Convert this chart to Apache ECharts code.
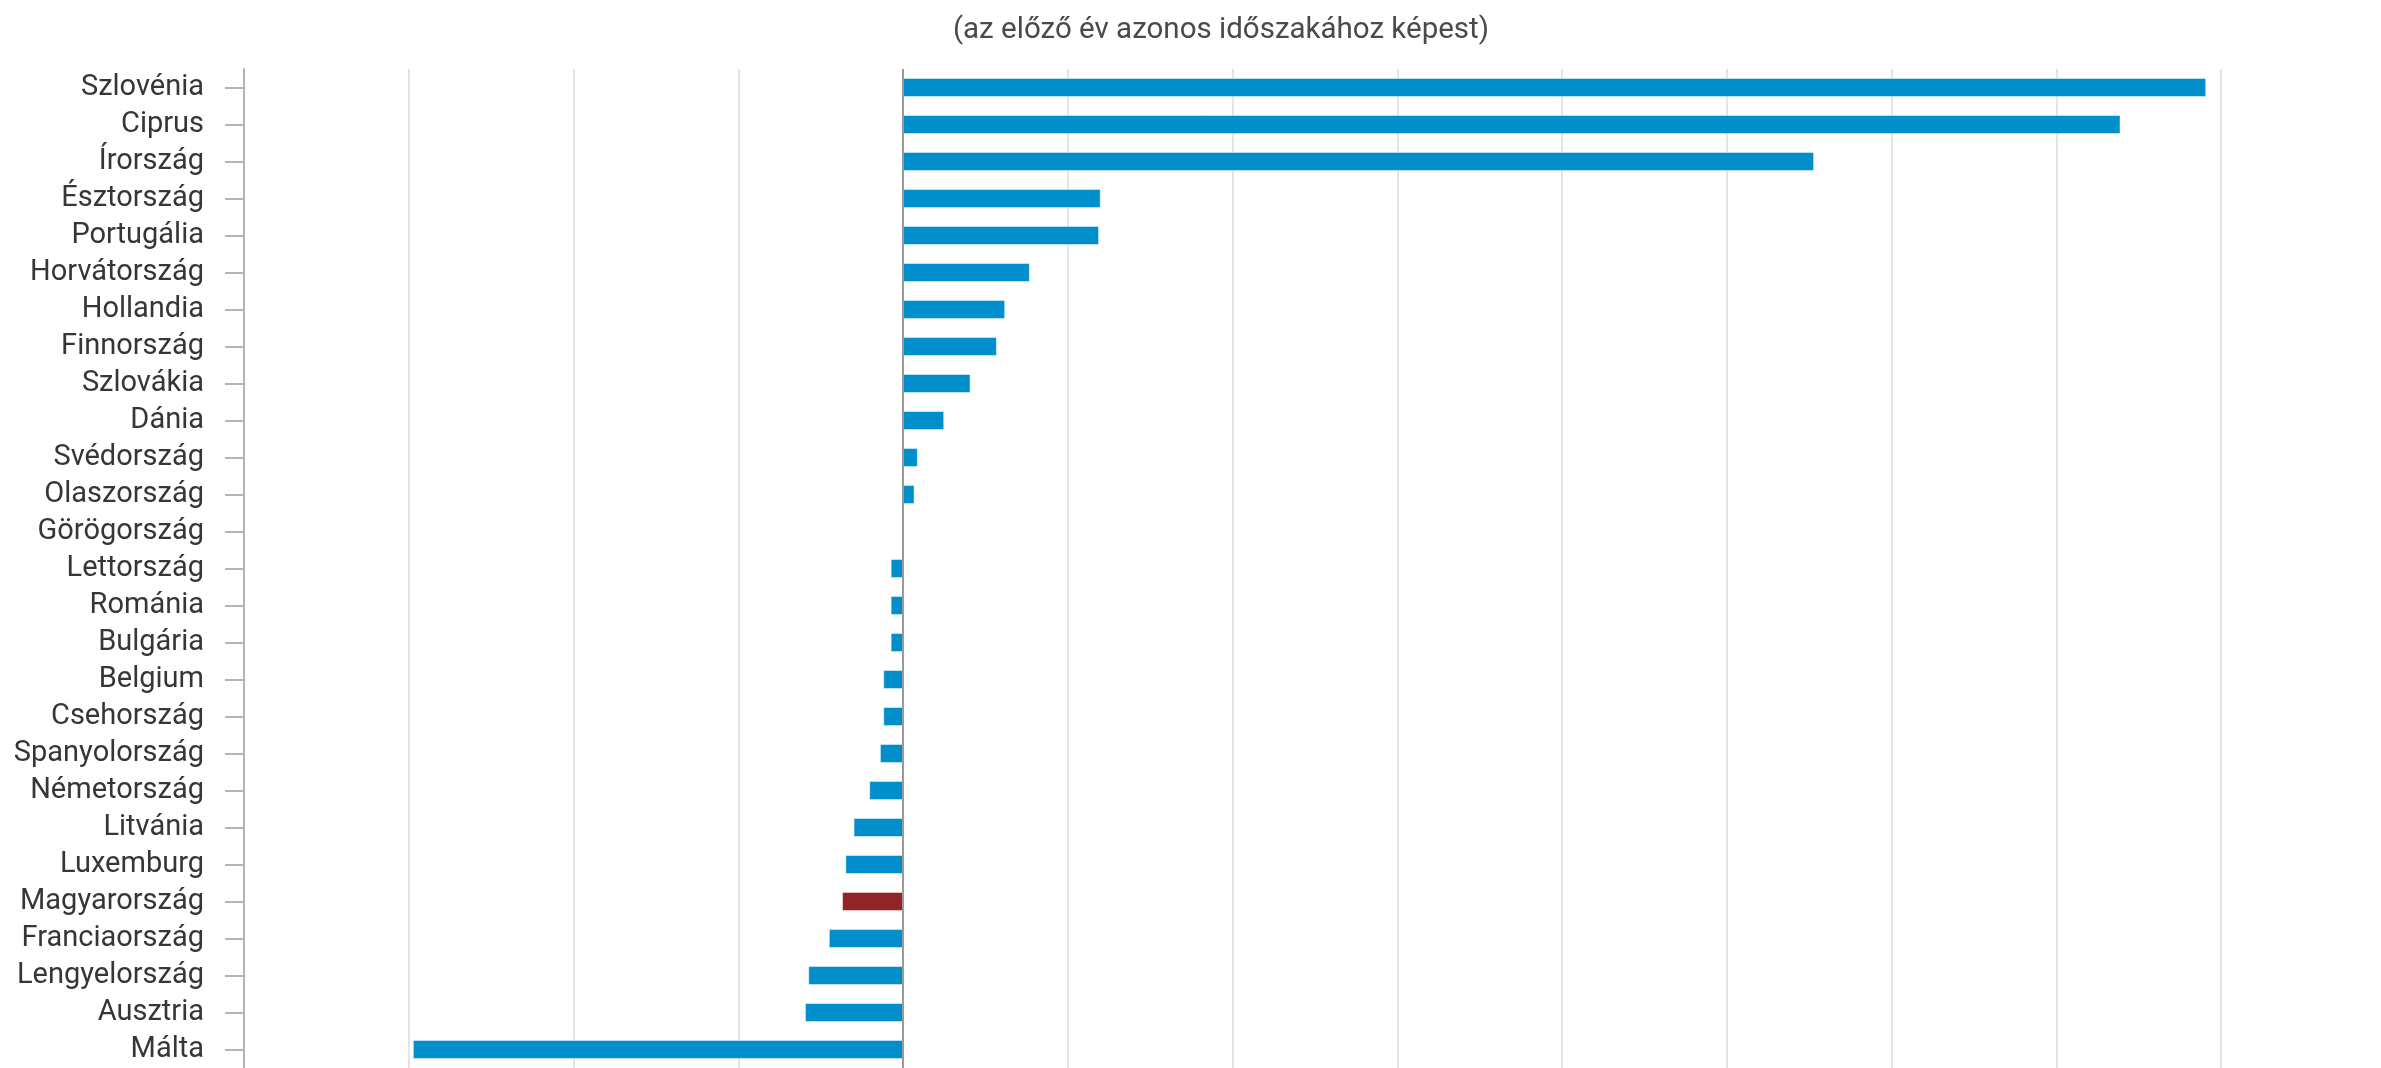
<!DOCTYPE html>
<html>
<head>
<meta charset="utf-8">
<script src="https://cdn.jsdelivr.net/npm/echarts@6/dist/echarts.min.js"></script>
<style>
html,body{margin:0;padding:0;background:#fff;}
#chart{width:2381px;height:1068px;}
</style>
</head>
<body>
<div id="chart"></div>
<script>
const subtitleText = '(az előző év azonos időszakához képest)';
const categories = ['Szlovénia','Ciprus','Írország','Észtország','Portugália','Horvátország','Hollandia','Finnország','Szlovákia','Dánia','Svédország','Olaszország','Görögország','Lettország','Románia','Bulgária','Belgium','Csehország','Spanyolország','Németország','Litvánia','Luxemburg','Magyarország','Franciaország','Lengyelország','Ausztria','Málta'];
const values = [7.91, 7.39, 5.53, 1.20, 1.19, 0.77, 0.62, 0.57, 0.41, 0.25, 0.09, 0.07, 0, -0.075, -0.075, -0.075, -0.12, -0.12, -0.14, -0.205, -0.30, -0.35, -0.37, -0.45, -0.575, -0.595, -2.975];
const highlightCountry = 'Magyarország';
const axisMin = -4, axisMax = 8, axisInterval = 1;

const chart = echarts.init(document.getElementById('chart'), null, {renderer: 'canvas'});
chart.setOption({
  animation: false,
  backgroundColor: '#ffffff',
  textStyle: {fontFamily: 'Roboto'},
  title: {
    text: subtitleText,
    left: 1216, top: 11, textAlign: 'center',
    textStyle: {fontFamily: 'Roboto', fontSize: 29.5, fontWeight: 'normal', color: '#4a4a4a'}
  },
  grid: {left: 244, right: 160, top: 69, bottom: 0, containLabel: false},
  xAxis: {
    type: 'value', min: axisMin, max: axisMax, interval: axisInterval,
    axisLabel: {show: false}, axisTick: {show: false}, axisLine: {show: false},
    splitLine: {show: true, lineStyle: {color: '#e4e4e4', width: 2}}
  },
  yAxis: {
    type: 'category', data: categories, inverse: true,
    axisLine: {show: true, onZero: false, lineStyle: {color: '#b4b4b4', width: 2}},
    axisTick: {show: true, alignWithLabel: true, interval: 0, length: 19, lineStyle: {color: '#b4b4b4', width: 2}},
    axisLabel: {interval: 0, margin: 40, fontFamily: 'Roboto', fontSize: 29, color: '#363636'},
    splitLine: {show: false}
  },
  series: [{
    type: 'bar',
    data: values.map((v, i) => ({
      value: v,
      itemStyle: {color: categories[i] === highlightCountry ? '#922426' : '#008fcb'}
    })),
    barWidth: 19,
    itemStyle: {borderColor: 'rgba(255,255,255,0.45)', borderWidth: 1},
    markLine: {
      silent: true, symbol: 'none', label: {show: false},
      lineStyle: {color: '#9a9a9a', width: 2, type: 'solid'},
      data: [{xAxis: 0}]
    }
  }]
});
</script>
</body>
</html>
